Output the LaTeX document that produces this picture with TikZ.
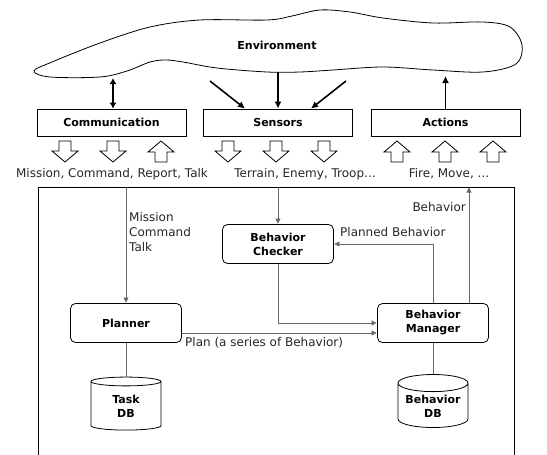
\documentclass[tikz,border=0pt]{standalone}
\usepackage{fontspec}
\setmainfont{DejaVu Sans}
\usetikzlibrary{arrows.meta,shapes.geometric,calc}

\tikzset{
  iobox/.style={draw,line width=0.8pt,minimum width=149pt,minimum height=27pt,font=\fontsize{11}{13}\selectfont\bfseries},
  modbox/.style={draw,line width=0.8pt,rounded corners=5pt,minimum width=111pt,minimum height=39pt,align=center,font=\fontsize{11}{14}\selectfont\bfseries,inner sep=1pt},
  dbnode/.style={draw,line width=0.8pt,cylinder,shape border rotate=90,aspect=0.3,minimum width=70pt,minimum height=53pt,align=center,font=\fontsize{11}{14}\selectfont\bfseries,inner sep=1pt},
  bigarrow/.style={line width=1.6pt,-{Latex[length=7pt,width=7pt]}},
  flow/.style={draw=black!60,line width=0.6pt,-{Triangle[length=5pt,width=5pt]},shorten >=0.5pt},
  link/.style={draw=black!60,line width=0.6pt},
  hollow/.style={draw,line width=0.8pt,fill=white},
  lbl/.style={font=\fontsize{12}{15}\selectfont,text=black!85,inner sep=1pt}
}

\begin{document}
\begin{tikzpicture}[x=1pt,y=-1pt]
\useasboundingbox (0,0) rectangle (547,455);

% Environment cloud
\draw[line width=0.8pt] plot[smooth cycle,tension=0.55] coordinates {
  (34,71) (52,62) (100,43) (150,27) (200,20) (267,20) (292,16) (320,10)
  (350,12) (383,18) (433,23) (483,22) (510,27) (522,45) (516,64)
  (483,72) (433,70) (383,67) (333,70) (300,72) (267,72) (217,68)
  (183,62) (166,60) (150,62) (127,71) (100,77) (50,77)};
\node[font=\fontsize{11}{13}\selectfont\bfseries] (env) at (277,45) {Environment};

% Top boxes
\node[iobox] (comm) at (111.5,122.5) {Communication};
\node[iobox] (sensors) at (278,122.5) {Sensors};
\node[iobox] (actions) at (445.5,122.5) {Actions};

% Arrows between environment and boxes
\coordinate (envcomm) at (113,78);
\coordinate (envsl) at (210,81);
\coordinate (envsm) at (278,72);
\coordinate (envsr) at (346,81);
\coordinate (envact) at (445.5,76);
\draw[line width=1.6pt,{Latex[length=6pt,width=7pt]}-{Latex[length=6pt,width=7pt]}] (envcomm) -- (comm.north -| envcomm);
\draw[bigarrow] (envsl) -- ($(sensors.north)+(-33,0)$);
\draw[bigarrow] (envsm) -- (sensors.north);
\draw[bigarrow] (envsr) -- ($(sensors.north)+(33,0)$);
\draw[bigarrow] (actions.north) -- (envact);

% Hollow block arrows
\foreach \xx in {65,113,228,276,324}
  \draw[hollow] (\xx-6,141) -- (\xx+6,141) -- (\xx+6,151) -- (\xx+13,151)
    -- (\xx,162) -- (\xx-13,151) -- (\xx-6,151) -- cycle;
\foreach \xx in {161,397,445,493}
  \draw[hollow] (\xx-6,162) -- (\xx+6,162) -- (\xx+6,152) -- (\xx+13,152)
    -- (\xx,141) -- (\xx-13,152) -- (\xx-6,152) -- cycle;

\node[lbl] (commtxt) at (112,174) {Mission, Command, Report, Talk};
\node[lbl] (senstxt) at (305,174) {Terrain, Enemy, Troop...};
\node[lbl] (acttxt) at (449,174) {Fire, Move, ...};

% Agent frame
\draw[line width=1pt] (38,456) -- (38,187) -- (514,187) -- (514,456);
\coordinate (frame) at (38,187);

% Modules
\node[modbox] (checker) at (278,244) {Behavior\\Checker};
\node[modbox] (planner) at (126,323) {Planner};
\node[modbox] (manager) at (433,323) {Behavior\\Manager};
\node[dbnode] (taskdb) at (126,406.5) {Task\\DB};
\node[dbnode] (behdb) at (433,406.5) {Behavior\\DB};

% Connectors
\draw[flow] (planner.north |- frame) -- (planner.north);
\node[lbl,anchor=north west,align=left] (msgtxt) at (128,211) {Mission\\Command\\Talk};
\draw[flow] (checker.north |- frame) -- (checker.north);
\draw[flow] (checker.south) |- (manager.west);
\draw[flow] ([yshift=-10pt]planner.east) -- ([yshift=-10pt]manager.west);
\node[lbl,anchor=north west] (plantxt) at (184,336) {Plan (a series of Behavior)};
\draw[flow] (manager.north) |- (checker.east);
\node[lbl,anchor=west] (pbtxt) at (339,232) {Planned Behavior};
\draw[flow] ([xshift=36pt]manager.north) -- ([xshift=36pt]manager.north |- frame);
\node[lbl,anchor=east] (behtxt) at (467,207) {Behavior};
\draw[link] (planner.south) -- (taskdb.top);
\draw[link] (manager.south) -- (behdb.top);

\end{tikzpicture}
\end{document}
